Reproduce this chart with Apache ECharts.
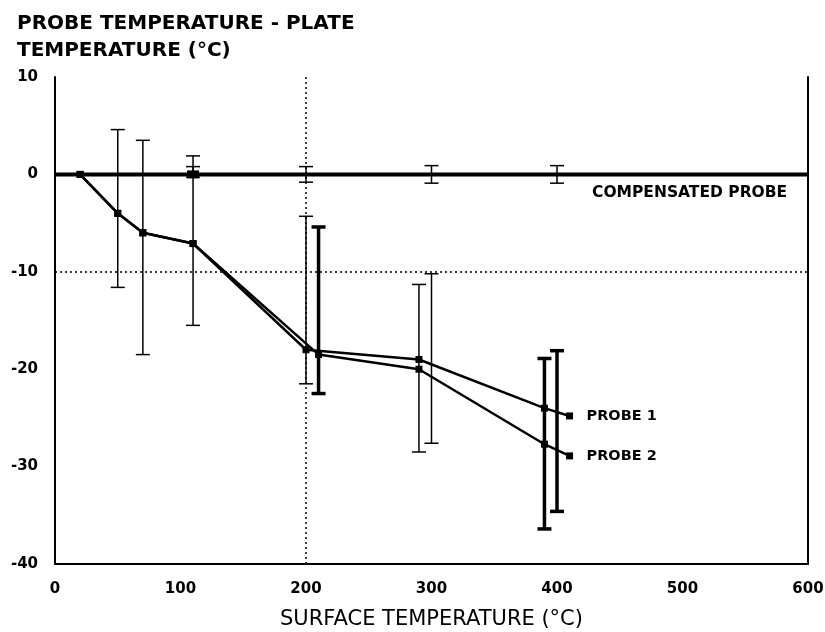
<!DOCTYPE html>
<html>
<head>
<meta charset="utf-8">
<script src="https://cdn.jsdelivr.net/npm/echarts@6/dist/echarts.min.js"></script>
<style>html,body{margin:0;padding:0;background:#fff;}#c{width:825px;height:632px;}</style>
</head>
<body>
<div id="c"></div>
<script>
// ---- data ----
const xTicks = [0, 100, 200, 300, 400, 500, 600];
const yTicks = [-40, -30, -20, -10, 0, 10];

const probe1X = [20, 50, 70, 110, 200, 290, 390, 410];
const probe1Y = [0, -4, -6, -7.1, -18, -19, -24, -24.8];
const probe2X = [20, 50, 70, 110, 210, 290, 390, 410];
const probe2Y = [0, -4, -6, -7.1, -18.5, -20, -27.7, -28.9];

const compX = [0, 110, 600];
const compY = [0, 0, 0];

// probe error bars, thin
const errThinX = [50, 70, 110, 200, 290, 300];
const errThinLow = [-11.6, -18.5, -15.5, -21.5, -28.5, -27.6];
const errThinHigh = [4.6, 3.5, 1.9, -4.3, -11.3, -10.2];
// probe error bars, thick
const errThickX = [210, 390, 400];
const errThickLow = [-22.5, -36.4, -34.6];
const errThickHigh = [-5.4, -18.9, -18.1];
// compensated probe error bars
const errCompX = [110, 200, 300, 400];
const errCompLow = [-0.3, -0.8, -0.9, -0.9];
const errCompHigh = [0.8, 0.8, 0.9, 0.9];

const gridX = [200];
const gridY = [-10];

// ---- build ----
const zip = (a, b) => a.map((v, i) => [v, b[i]]);
const zip3 = (a, b, c) => a.map((v, i) => [v, b[i], c[i]]);

function errRender(lw, cap) {
  return function (params, api) {
    const x = api.value(0), lo = api.value(1), hi = api.value(2);
    const p1 = api.coord([x, hi]), p2 = api.coord([x, lo]);
    const h = cap / 2;
    const st = { stroke: '#000', lineWidth: lw };
    return {
      type: 'group', children: [
        { type: 'line', shape: { x1: p1[0], y1: p1[1], x2: p2[0], y2: p2[1] }, style: st },
        { type: 'line', shape: { x1: p1[0] - h, y1: p1[1], x2: p1[0] + h, y2: p1[1] }, style: st },
        { type: 'line', shape: { x1: p2[0] - h, y1: p2[1], x2: p2[0] + h, y2: p2[1] }, style: st }
      ]
    };
  };
}

const font = '"DejaVu Sans", Verdana, sans-serif';
const chart = echarts.init(document.getElementById('c'), null, { renderer: 'canvas' });

chart.setOption({
  animation: false,
  backgroundColor: '#fff',
  title: {
    text: 'PROBE TEMPERATURE - PLATE\nTEMPERATURE (°C)',
    left: 12, top: 6,
    textStyle: { fontFamily: font, fontSize: 20, fontWeight: 'bold', color: '#000', lineHeight: 26.5 }
  },
  grid: { left: 55, right: 17, top: 77, bottom: 68, containLabel: false, outerBoundsMode: 'none' },
  xAxis: {
    type: 'value', min: xTicks[0], max: xTicks[xTicks.length - 1], interval: 100,
    name: 'SURFACE TEMPERATURE (°C)', nameLocation: 'middle', nameGap: 45,
    nameTextStyle: { fontFamily: font, fontSize: 21, color: '#000' },
    axisLine: { show: true, onZero: false, lineStyle: { color: '#000', width: 2 } },
    axisTick: { show: false },
    splitLine: { show: false },
    axisLabel: { margin: 18, fontFamily: font, fontSize: 15, fontWeight: 'bold', color: '#000' }
  },
  yAxis: [{
    type: 'value', min: yTicks[0], max: yTicks[yTicks.length - 1], interval: 10,
    axisLine: { show: true, onZero: false, lineStyle: { color: '#000', width: 2 } },
    axisTick: { show: false },
    splitLine: { show: false },
    axisLabel: { margin: 17, fontFamily: font, fontSize: 15, fontWeight: 'bold', color: '#000' }
  }, {
    type: 'value', min: yTicks[0], max: yTicks[yTicks.length - 1], interval: 10, position: 'right',
    axisLine: { show: true, onZero: false, lineStyle: { color: '#000', width: 2 } },
    axisTick: { show: false }, axisLabel: { show: false }, splitLine: { show: false }
  }],
  graphic: [{
    type: 'text', left: 592, top: 185,
    style: { text: 'COMPENSATED PROBE', font: 'bold 15.5px ' + font, fill: '#000' }
  }],
  series: [
    {
      type: 'line', name: 'grid', data: [], silent: true,
      markLine: {
        silent: true, symbol: 'none', label: { show: false },
        lineStyle: { color: '#000', type: [2, 3], width: 1.5 },
        data: gridX.map(v => ({ xAxis: v })).concat(gridY.map(v => ({ yAxis: v })))
      }
    },
    {
      type: 'line', name: 'COMPENSATED PROBE', data: zip(compX, compY),
      lineStyle: { color: '#000', width: 4 },
      symbol: 'rect', symbolSize: function (v) { return (v[0] === 0 || v[0] === 600) ? 0 : [12, 8]; },
      itemStyle: { color: '#000' }
    },
    {
      type: 'line', name: 'PROBE 1', data: zip(probe1X, probe1Y),
      lineStyle: { color: '#000', width: 2.5 },
      symbol: 'rect', symbolSize: 7, itemStyle: { color: '#000' },
      endLabel: { show: true, formatter: 'PROBE 1', distance: 17, fontFamily: font, fontSize: 14.5, fontWeight: 'bold', color: '#000' }
    },
    {
      type: 'line', name: 'PROBE 2', data: zip(probe2X, probe2Y),
      lineStyle: { color: '#000', width: 2.5 },
      symbol: 'rect', symbolSize: 7, itemStyle: { color: '#000' },
      endLabel: { show: true, formatter: 'PROBE 2', distance: 17, fontFamily: font, fontSize: 14.5, fontWeight: 'bold', color: '#000' }
    },
    { type: 'custom', name: 'err thin', data: zip3(errThinX, errThinLow, errThinHigh), renderItem: errRender(1.5, 14), z: 3 },
    { type: 'custom', name: 'err thick', data: zip3(errThickX, errThickLow, errThickHigh), renderItem: errRender(3.5, 14), z: 3 },
    { type: 'custom', name: 'err comp', data: zip3(errCompX, errCompLow, errCompHigh), renderItem: errRender(1.5, 14), z: 3 }
  ]
});
</script>
</body>
</html>
